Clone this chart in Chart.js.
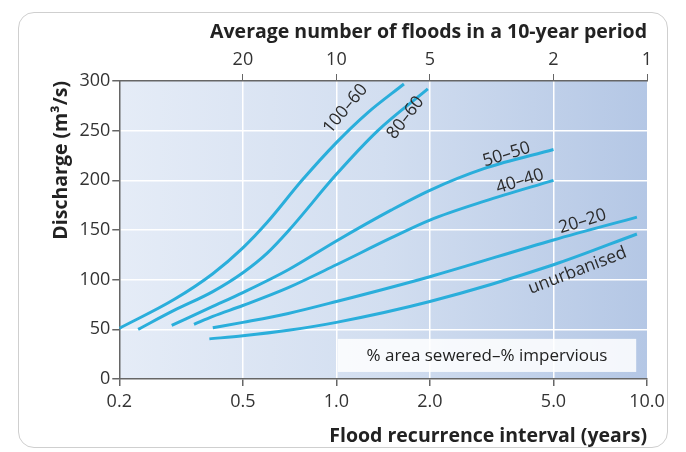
<!DOCTYPE html>
<html>
<head>
<meta charset="utf-8">
<script src="https://cdn.jsdelivr.net/npm/chart.js@4"></script>
<style>
  body { margin: 0; background: #fff; }
  #wrap { position: relative; width: 686px; height: 452px; }
  #frame { position: absolute; left: 18px; top: 12px; width: 648px; height: 434px;
           border: 1.5px solid #cfcfcf; border-radius: 16px; }
  canvas { position: absolute; left: 0; top: 0; }
</style>
</head>
<body>
<div id="wrap">
  <div id="frame"></div>
  <canvas id="chart" width="686" height="452"></canvas>
</div>
<script>
// recurrence interval (years) / discharge (m3/s)
const x100_60 = [0.2, 0.3, 0.4, 0.5, 0.6, 0.775, 1.0, 1.26, 1.65]
const y100_60 = [51, 80, 106, 132, 158, 200, 238, 268, 297]
const x80_60 = [0.23, 0.3, 0.4, 0.5, 0.6, 0.7, 1.0, 1.36, 1.97]
const y80_60 = [50, 69, 88, 107, 127, 149, 206, 250, 292]
const x50_50 = [0.295, 0.4, 0.5, 0.7, 1.0, 1.5, 2.0, 3.0, 5.0]
const y50_50 = [54, 73, 87, 110, 139, 170, 190, 212, 231]
const x40_40 = [0.348, 0.4, 0.5, 0.7, 1.0, 1.5, 2.0, 3.0, 5.0]
const y40_40 = [55, 63, 74, 92, 115, 142, 160, 179, 200]
const x20_20 = [0.4, 0.5, 0.7, 1.0, 2.0, 5.0, 9.28]
const y20_20 = [51.5, 57, 66, 78, 103, 140, 163]
const xUnurb = [0.39, 0.5, 0.7, 1.0, 2.0, 5.0, 9.28]
const yUnurb = [40.4, 43.5, 49, 57, 78, 115, 146]

const seriesNames = ['100–60', '80–60', '50–50', '40–40', '20–20', 'unurbanised']
const xTicks = [0.2, 0.5, 1.0, 2.0, 5.0, 10.0]
const topTicks = [0.5, 1.0, 2.0, 5.0, 10.0]
const yTicks = [0, 50, 100, 150, 200, 250, 300]

const pts = (xs, ys) => xs.map((x, i) => ({x: x, y: ys[i]}))
const allX = [x100_60, x80_60, x50_50, x40_40, x20_20, xUnurb]
const allY = [y100_60, y80_60, y50_50, y40_40, y20_20, yUnurb]

const lineColor = '#2aaedb'
const tickFont = {family: 'Open Sans', size: 18}
const titleFont = {family: 'Open Sans', size: 19.5, weight: 'bold'}

// curve labels: [x, y, angle in degrees]
const labelSpots = [[1.07, 272, -50], [1.67, 263, -52], [3.53, 226, -17], [3.9, 199, -17], [6.2, 158.6, -17], [5.97, 109, -21]]

const background = {
  id: 'background',
  beforeDraw(chart) {
    const {ctx, chartArea: a} = chart
    const g = ctx.createLinearGradient(a.left, 0, a.right, 0)
    g.addColorStop(0, '#e5ecf7')
    g.addColorStop(0.5, '#d2def0')
    g.addColorStop(1, '#b4c7e5')
    ctx.save()
    ctx.fillStyle = g
    ctx.fillRect(a.left, a.top, a.right - a.left, a.bottom - a.top)
    ctx.restore()
  }
}

const labels = {
  id: 'labels',
  afterDatasetsDraw(chart) {
    const {ctx, scales} = chart
    const sx = scales.x, sy = scales.y
    ctx.save()
    ctx.fillStyle = '#2b2b2b'
    ctx.font = '17.5px "Open Sans"'
    ctx.textAlign = 'center'
    ctx.textBaseline = 'middle'
    labelSpots.forEach((s, i) => {
      ctx.save()
      ctx.translate(sx.getPixelForValue(s[0]), sy.getPixelForValue(s[1]))
      ctx.rotate(s[2] * Math.PI / 180)
      ctx.fillText(seriesNames[i], 0, 0)
      ctx.restore()
    })
    // key box
    const l = sx.getPixelForValue(1.01), r = sx.getPixelForValue(9.23)
    const t = sy.getPixelForValue(40.4), b = sy.getPixelForValue(7.1)
    ctx.fillStyle = 'rgba(255,255,255,0.85)'
    ctx.fillRect(l, t, r - l, b - t)
    ctx.fillStyle = '#222'
    ctx.font = '17px "Open Sans"'
    ctx.fillText('% area sewered–% impervious', (l + r) / 2, (t + b) / 2 + 1)
    ctx.restore()
  }
}

new Chart(document.getElementById('chart'), {
  type: 'line',
  data: {
    datasets: seriesNames.map((n, i) => ({
      label: n,
      data: pts(allX[i], allY[i]),
      borderColor: lineColor,
      borderWidth: 3,
      pointRadius: 0,
      fill: false,
      cubicInterpolationMode: 'monotone',
      xAxisID: 'x'
    }))
  },
  options: {
    responsive: false,
    animation: false,
    layout: {padding: {left: 46, right: 39, top: 17, bottom: 0}},
    plugins: {legend: {display: false}, tooltip: {enabled: false}},
    scales: {
      x: {
        type: 'logarithmic', position: 'bottom', min: 0.2, max: 10,
        afterBuildTicks: (axis) => { axis.ticks = xTicks.map(v => ({value: v})) },
        ticks: {color: '#333', font: tickFont, autoSkip: false, maxRotation: 0, padding: 5,
                callback: (v) => Number(v).toFixed(1)},
        grid: {color: (c) => (c.tick && c.tick.value > 0.2 && c.tick.value < 10) ? '#ffffff' : 'rgba(0,0,0,0)',
               lineWidth: 1.5, tickColor: '#666', tickLength: 7},
        border: {color: '#666', width: 1.5},
        title: {display: true, text: 'Flood recurrence interval (years)', align: 'end',
                color: '#222', font: titleFont, padding: {top: 7}}
      },
      x2: {
        type: 'logarithmic', position: 'top', min: 0.2, max: 10,
        afterBuildTicks: (axis) => { axis.ticks = topTicks.map(v => ({value: v})) },
        ticks: {color: '#333', font: tickFont, autoSkip: false, maxRotation: 0, padding: 3,
                callback: (v) => String(Math.round(10 / v))},
        grid: {drawOnChartArea: false, tickColor: '#666', tickLength: 7},
        border: {color: '#666', width: 1.5},
        title: {display: true, text: 'Average number of floods in a 10-year period', align: 'end',
                color: '#222', font: titleFont, padding: {bottom: 2}}
      },
      y: {
        min: 0, max: 300,
        afterBuildTicks: (axis) => { axis.ticks = yTicks.map(v => ({value: v})) },
        ticks: {color: '#333', font: tickFont, padding: 2},
        grid: {color: (c) => (c.tick && c.tick.value > 0 && c.tick.value < 300) ? '#ffffff' : 'rgba(0,0,0,0)',
               lineWidth: 1.5, tickColor: '#666', tickLength: 7},
        border: {color: '#666', width: 1.5},
        title: {display: true, text: 'Discharge (m³/s)', align: 'end',
                color: '#222', font: titleFont, padding: {bottom: 4}}
      }
    }
  },
  plugins: [background, labels]
})
</script>
</body>
</html>
